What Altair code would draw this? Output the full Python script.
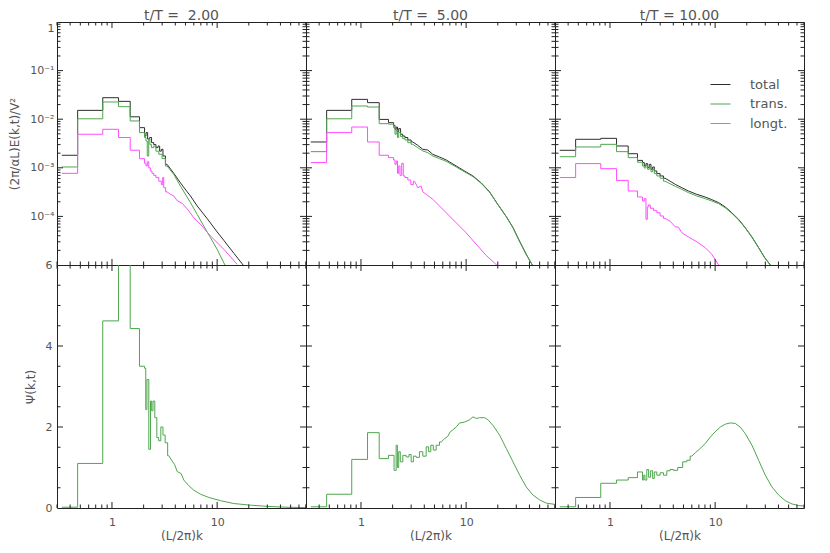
import altair as alt
import pandas as pd

# ---------------- data ----------------
K_BINS = [0.333, 0.667, 1.0, 1.333, 1.667, 2.0]

# t/T = 2.00 : spectra
P1_TOT_BINS = [1.81e-3, 1.52e-2, 2.77e-2, 2.33e-2, 1.12e-2, 6.7e-3]
P1_TOT_K = [2.08, 2.13, 2.24, 2.32, 2.44, 2.55, 2.69, 2.79, 2.89, 3.00, 3.11, 3.34,
            3.87, 4.48, 5.19, 5.58, 6.46, 8.04, 10.0, 11.6, 14.4, 18.0]
P1_TOT_E = [4.5e-3, 5.3e-3, 3.9e-3, 4.2e-3, 3.3e-3, 3.0e-3, 2.6e-3, 2.8e-3, 2.2e-3, 2.4e-3, 1.75e-3, 1.18e-3,
            7.7e-4, 4.9e-4, 3.2e-4, 2.63e-4, 1.64e-4, 9.0e-5, 4.8e-5, 3.2e-5, 1.75e-5, 9.5e-6]
P1_TRA_BINS = [1.04e-3, 1.02e-2, 2.26e-2, 1.81e-2, 9.2e-3, 5.3e-3]
P1_TRA_K = [2.08, 2.13, 2.20, 2.27, 2.32, 2.44, 2.55, 2.69, 2.89, 3.11, 3.34,
            3.87, 4.48, 5.58, 6.46, 7.47, 8.65, 10.0, 12.0]
P1_TRA_E = [4.2e-3, 3.56e-3, 1.75e-3, 3.9e-3, 3.0e-3, 2.6e-3, 2.8e-3, 2.2e-3, 1.9e-3, 1.55e-3, 1.09e-3,
            7.3e-4, 4.2e-4, 1.92e-4, 1.10e-4, 6.3e-5, 3.65e-5, 2.1e-5, 9.5e-6]
P1_LON_BINS = [7.7e-4, 4.9e-3, 6.2e-3, 4.2e-3, 2.3e-3, 1.54e-3]
P1_LON_K = [2.08, 2.13, 2.20, 2.27, 2.36, 2.44, 2.55, 2.69, 2.89, 3.00, 3.07, 3.14, 3.34,
            3.60, 3.87, 4.17, 4.66, 5.19, 6.0, 6.93, 8.65, 11.6, 15.5]
P1_LON_E = [1.24e-3, 1.09e-3, 1.33e-3, 1.0e-3, 8.6e-4, 7.7e-4, 7.0e-4, 6.3e-4, 5.3e-4, 4.5e-4, 6.3e-4, 3.9e-4, 3.2e-4,
            2.84e-4, 2.63e-4, 2.1e-4, 1.86e-4, 1.43e-4, 9.4e-5, 6.9e-5, 3.95e-5, 2.1e-5, 1.03e-5]

# t/T = 5.00 : spectra
P2_TOT_BINS = [3.4e-3, 1.52e-2, 2.56e-2, 2.19e-2, 9.9e-3, 8.5e-3]
P2_TOT_K = [2.08, 2.13, 2.20, 2.25, 2.32, 2.44, 2.55, 2.69, 2.89, 3.11, 3.47, 3.87, 4.32, 4.82,
            5.58, 6.46, 8.04, 10.0, 11.6, 13.9, 16.7, 20.0, 24.1, 27.9, 32.2, 37.3, 43.2]
P2_TOT_E = [7.5e-3, 6.2e-3, 6.9e-3, 5.5e-3, 6.4e-3, 4.9e-3, 4.5e-3, 4.2e-3, 3.73e-3, 3.4e-3, 2.9e-3, 2.4e-3, 2.32e-3, 1.89e-3,
            1.67e-3, 1.45e-3, 1.09e-3, 8.2e-4, 6.8e-4, 4.9e-4, 3.2e-4, 1.77e-4, 9.9e-5, 5.9e-5, 3.1e-5, 1.66e-5, 9.5e-6]
P2_TRA_BINS = [2.15e-3, 1.02e-2, 1.87e-2, 1.78e-2, 8.1e-3, 7.9e-3]
P2_TRA_K = [2.08, 2.13, 2.20, 2.25, 2.32, 2.44, 2.55, 2.69, 2.89, 3.11, 3.47, 3.87, 4.32, 4.82,
            5.58, 6.46, 8.04, 10.0, 11.6, 13.9, 16.7, 20.0, 24.1, 27.9, 32.2, 37.3, 43.2]
P2_TRA_E = [6.7e-3, 4.9e-3, 6.0e-3, 4.2e-3, 5.3e-3, 4.4e-3, 3.98e-3, 3.73e-3, 3.29e-3, 3.04e-3, 2.59e-3, 2.22e-3, 2.05e-3, 1.75e-3,
            1.54e-3, 1.36e-3, 1.04e-3, 7.9e-4, 6.6e-4, 4.8e-4, 3.15e-4, 1.75e-4, 9.8e-5, 5.8e-5, 3.05e-5, 1.64e-5, 9.4e-6]
P2_LON_BINS = [1.28e-3, 5.3e-3, 6.9e-3, 3.4e-3, 1.81e-3, 1.62e-3]
P2_LON_K = [2.08, 2.13, 2.20, 2.25, 2.32, 2.38, 2.50, 2.55, 2.69, 2.89, 3.07, 3.23, 3.47, 3.73, 3.87,
            4.17, 4.82, 5.58, 6.46, 8.04, 10.0, 12.5, 15.5, 20.0]
P2_LON_E = [1.45e-3, 1.18e-3, 1.38e-3, 7.7e-4, 1.09e-3, 7.0e-4, 1.24e-3, 6.8e-4, 6.3e-4, 5.6e-4, 4.5e-4, 5.3e-4, 3.9e-4, 4.2e-4, 3.2e-4,
            2.84e-4, 2.25e-4, 1.64e-4, 1.19e-4, 7.4e-5, 4.6e-5, 2.66e-5, 1.58e-5, 9.5e-6]

# t/T = 10.00 : spectra
P3_TOT_BINS = [2.29e-3, 3.86e-3, 4.04e-3, 2.81e-3, 1.95e-3, 1.42e-3]
P3_TOT_K = [2.08, 2.16, 2.24, 2.32, 2.41, 2.50, 2.59, 2.69, 2.89, 3.11, 3.34, 3.73, 4.17, 4.82,
            5.58, 6.7, 8.04, 9.3, 10.8, 12.5, 14.4, 16.7, 19.3, 22.4, 25.9, 29.6, 33.5]
P3_TOT_E = [1.28e-3, 1.09e-3, 1.22e-3, 1.01e-3, 1.18e-3, 9.3e-4, 1.04e-3, 8.6e-4, 7.6e-4, 6.8e-4, 6.1e-4, 5.3e-4, 4.57e-4, 3.9e-4,
            3.33e-4, 2.84e-4, 2.51e-4, 2.21e-4, 1.92e-4, 1.56e-4, 1.19e-4, 8.7e-5, 5.9e-5, 3.77e-5, 2.28e-5, 1.42e-5, 1.0e-5]
P3_TRA_BINS = [1.69e-3, 2.68e-3, 3.04e-3, 2.15e-3, 1.62e-3, 1.3e-3]
P3_TRA_K = [2.08, 2.16, 2.24, 2.32, 2.41, 2.50, 2.59, 2.69, 2.89, 3.11, 3.34, 3.73, 4.17, 4.82,
            5.58, 6.7, 8.04, 9.3, 10.8, 12.5, 14.4, 16.7, 19.3, 22.4, 25.9, 29.6, 33.5]
P3_TRA_E = [1.09e-3, 9.9e-4, 1.15e-3, 9.3e-4, 1.04e-3, 8.3e-4, 9.3e-4, 7.6e-4, 6.8e-4, 6.1e-4, 5.3e-4, 4.7e-4, 4.16e-4, 3.6e-4,
            3.08e-4, 2.63e-4, 2.32e-4, 2.07e-4, 1.83e-4, 1.5e-4, 1.16e-4, 8.5e-5, 5.8e-5, 3.7e-5, 2.25e-5, 1.4e-5, 9.9e-6]
P3_LON_BINS = [6.3e-4, 1.22e-3, 9.6e-4, 5.5e-4, 3.33e-4, 2.51e-4]
P3_LON_K = [2.08, 2.16, 2.24, 2.29, 2.34, 2.50, 2.69, 2.89, 3.11, 3.34, 3.73, 4.17, 4.48, 4.82,
            5.58, 6.7, 8.04, 9.3, 10.8]
P3_LON_E = [2.07e-4, 2.32e-4, 8.7e-5, 1.56e-4, 1.72e-4, 1.47e-4, 1.33e-4, 1.19e-4, 1.02e-4, 9.1e-5, 8.0e-5, 6.1e-5, 6.0e-5, 4.6e-5,
            3.77e-5, 3.0e-5, 2.28e-5, 1.66e-5, 1.0e-5]

# Psi(k,t)
P1_PSI_BINS = [0.02, 1.10, 4.62, 8.0, 4.43, 3.50]
P1_PSI_K = [2.08, 2.11, 2.19, 2.29, 2.36, 2.41, 2.50, 2.61, 2.73, 2.83, 3.00, 3.11, 3.30, 3.47,
            3.73, 3.93, 4.17, 4.55, 4.82, 5.38, 6.0, 6.95, 8.35, 10.8, 14.4, 20.8, 30.0, 45.0, 70.0]
P1_PSI_V = [3.45, 2.43, 3.17, 1.45, 2.64, 2.40, 2.64, 2.23, 1.74, 1.66, 2.00, 1.80, 1.61, 1.29,
            1.16, 1.08, 0.90, 0.85, 0.69, 0.55, 0.44, 0.34, 0.26, 0.18, 0.11, 0.07, 0.04, 0.02, 0.01]
P2_PSI_BINS = [0.03, 0.34, 1.20, 1.86, 1.22, 1.30]
P2_PSI_K = [2.13, 2.19, 2.25, 2.32, 2.41, 2.59, 2.79, 2.93, 3.07, 3.23, 3.47, 3.73, 4.02, 4.32, 4.48,
            4.75, 5.0, 5.38, 5.79, 6.23, 6.70, 7.05, 7.48, 8.05, 8.66, 9.66, 10.8, 11.6, 12.5, 13.4,
            15.0, 16.1, 18.0, 20.8, 24.1, 27.9, 32.3, 37.3, 43.2, 50.0, 57.9, 69.5]
P2_PSI_V = [0.93, 1.55, 1.00, 1.39, 1.14, 1.30, 1.26, 1.32, 1.14, 1.28, 1.25, 1.39, 1.28, 1.51, 1.39,
            1.55, 1.43, 1.55, 1.63, 1.71, 1.77, 1.88, 1.93, 2.00, 2.10, 2.12, 2.18, 2.25, 2.21, 2.23,
            2.23, 2.18, 2.04, 1.80, 1.47, 1.14, 0.81, 0.52, 0.32, 0.20, 0.12, 0.09]
P3_PSI_BINS = [0.03, 0.26, 0.61, 0.69, 0.75, 0.89]
P3_PSI_K = [2.08, 2.11, 2.19, 2.29, 2.37, 2.50, 2.59, 2.69, 2.89, 3.11, 3.35, 3.60, 3.87, 4.17,
            4.65, 5.19, 5.58, 6.0, 6.46, 7.21, 8.05, 8.98, 10.0, 11.2, 12.5, 13.9, 15.5, 17.3, 19.3,
            22.4, 25.9, 30.0, 34.7, 40.2, 46.5, 53.8, 62.3, 69.5]
P3_PSI_V = [0.69, 0.81, 0.69, 0.95, 0.76, 0.92, 0.73, 0.89, 0.81, 0.87, 0.81, 0.92, 0.95, 0.93,
            1.00, 1.14, 1.18, 1.28, 1.36, 1.47, 1.59, 1.75, 1.88, 2.00, 2.07, 2.10, 2.09, 2.00, 1.84,
            1.55, 1.18, 0.81, 0.52, 0.32, 0.18, 0.10, 0.06, 0.05]

SERIES = ["total", "trans.", "longt."]
COLORS = ["#2e2e2e", "#4ea64e", "#ff4dff"]
TITLES = ["t/T = \u00a02.00", "t/T = \u00a05.00", "t/T = 10.00"]

X_MAJOR = [1, 10]
X_MINOR = [0.3, 0.4, 0.5, 0.6, 0.7, 0.8, 0.9, 2, 3, 4, 5, 6, 7, 8, 9, 20, 30, 40, 50, 60, 70]
YLOG_MAJOR = [1e-4, 1e-3, 1e-2, 1e-1]
YLOG_MINOR = [m * 10.0 ** e for e in range(-5, 0) for m in range(2, 10)]
YLIN_MAJOR = [2, 4]
YLIN_MINOR = [0.5, 1, 1.5, 2.5, 3, 3.5, 4.5, 5, 5.5]

# ---------------- style ----------------
W, H = 249, 243
FONT = "DejaVu Sans"
TXT = "#555555"
FRAME = "#222222"

XS = alt.Scale(type="log", domain=[0.3, 70], nice=False)
YS_LOG = alt.Scale(type="log", domain=[1e-5, 1], nice=False)
YS_LIN = alt.Scale(type="linear", domain=[0, 6], nice=False, zero=False)
CS = alt.Scale(domain=SERIES, range=COLORS)

LEGEND = alt.Legend(orient="none", legendX=653, legendY=52, title=None,
                    symbolType="stroke", symbolSize=400, symbolStrokeWidth=1,
                    labelOffset=19, labelFontSize=13, labelFont=FONT, labelColor=TXT,
                    rowPadding=1.5, padding=0)

YAX_TOP = alt.Axis(values=[1, 0.1, 0.01, 0.001, 0.0001],
                   labelExpr="datum.value >= 0.99 ? '1' : '10⁻' + ['','¹','²','³','⁴','⁵'][round(-log(datum.value)/LN10)]",
                   title="(2π/αL)E(k,t)/V²", labelPadding=3, titlePadding=8, labelFlush=True)
YAX_BOT = alt.Axis(values=[0, 2, 4, 6], format="d", title="Ψ(k,t)", labelPadding=5,
                   titlePadding=8, labelFlush=False)
XAX_BOT = alt.Axis(values=[1, 10], format="d", title="(L/2π)k", labelPadding=8,
                   titlePadding=3, labelFlush=False)


def frames(name, bins, ks, vs, split):
    sk = K_BINS + [k for k in ks if k <= split]
    sv = bins + [v for k, v in zip(ks, vs) if k <= split]
    tk = [sk[-1]] + [k for k in ks if k > split]
    tv = [sv[-1]] + [v for k, v in zip(ks, vs) if k > split]
    return (pd.DataFrame({"k": sk, "v": sv, "s": name}),
            pd.DataFrame({"k": tk, "v": tv, "s": name}))


def line_layers(name, bins, ks, vs, split, ys, xa, ya):
    step, tail = frames(name, bins, ks, vs, split)
    out = []
    for df, interp in ((step, "step"), (tail, "linear")):
        out.append(
            alt.Chart(df).mark_line(interpolate=interp, strokeWidth=1, clip=True).encode(
                x=alt.X("k:Q", scale=XS, axis=xa),
                y=alt.Y("v:Q", scale=ys, axis=ya),
                color=alt.Color("s:N", scale=CS, legend=LEGEND),
            )
        )
    return out


def tick_layers(ys, ymaj, ymin, xa, ya):
    out = []
    for vals, ln in ((X_MAJOR, 6), (X_MINOR, 3.5)):
        b = alt.Chart(pd.DataFrame({"t": vals})).mark_rule(color=FRAME, strokeWidth=1)
        out.append(b.encode(x=alt.X("t:Q", scale=XS, axis=xa), y=alt.value(H), y2=alt.value(H - ln)))
        out.append(b.encode(x=alt.X("t:Q", scale=XS, axis=xa), y=alt.value(0), y2=alt.value(ln)))
    for vals, ln in ((ymaj, 6), (ymin, 3.5)):
        b = alt.Chart(pd.DataFrame({"t": vals})).mark_rule(color=FRAME, strokeWidth=1)
        out.append(b.encode(y=alt.Y("t:Q", scale=ys, axis=ya), x=alt.value(0), x2=alt.value(ln)))
        out.append(b.encode(y=alt.Y("t:Q", scale=ys, axis=ya), x=alt.value(W), x2=alt.value(W - ln)))
    return out


TOP = [
    (P1_TOT_BINS, P1_TOT_K, P1_TOT_E, P1_TRA_BINS, P1_TRA_K, P1_TRA_E, P1_LON_BINS, P1_LON_K, P1_LON_E),
    (P2_TOT_BINS, P2_TOT_K, P2_TOT_E, P2_TRA_BINS, P2_TRA_K, P2_TRA_E, P2_LON_BINS, P2_LON_K, P2_LON_E),
    (P3_TOT_BINS, P3_TOT_K, P3_TOT_E, P3_TRA_BINS, P3_TRA_K, P3_TRA_E, P3_LON_BINS, P3_LON_K, P3_LON_E),
]
BOT = [
    (P1_PSI_BINS, P1_PSI_K, P1_PSI_V, 3.5),
    (P2_PSI_BINS, P2_PSI_K, P2_PSI_V, 6.0),
    (P3_PSI_BINS, P3_PSI_K, P3_PSI_V, 6.0),
]

panels = []
for i, d in enumerate(TOP):
    ya = YAX_TOP if i == 0 else None
    layers = []
    layers += line_layers("total", d[0], d[1], d[2], 3.4, YS_LOG, None, ya)
    layers += line_layers("trans.", d[3], d[4], d[5], 3.4, YS_LOG, None, ya)
    layers += line_layers("longt.", d[6], d[7], d[8], 3.4, YS_LOG, None, ya)
    layers += tick_layers(YS_LOG, YLOG_MAJOR, YLOG_MINOR, None, ya)
    panels.append(alt.layer(*layers).properties(
        width=W, height=H,
        title=alt.TitleParams(TITLES[i], fontSize=14, font=FONT, color=TXT, fontWeight="normal",
                              anchor="middle", offset=-1)))

for i, d in enumerate(BOT):
    ya = YAX_BOT if i == 0 else None
    layers = line_layers("trans.", d[0], d[1], d[2], d[3], YS_LIN, XAX_BOT, ya)
    layers += tick_layers(YS_LIN, YLIN_MAJOR, YLIN_MINOR, XAX_BOT, ya)
    panels.append(alt.layer(*layers).properties(width=W, height=H))

chart = alt.concat(*panels, columns=3, spacing=0, bounds="flush").properties(
    padding={"left": 0, "top": 0, "right": 0, "bottom": 0}
).configure_view(
    stroke=FRAME, strokeWidth=1
).configure_axis(
    grid=False, ticks=False, tickSize=0, domain=False,
    labelFont=FONT, titleFont=FONT, labelFontSize=11, titleFontSize=12,
    labelColor=TXT, titleColor=TXT, titleFontWeight="normal",
).configure_legend(
    padding=0
)

chart.save("out.html", embed_options={"renderer": "svg", "actions": False})
